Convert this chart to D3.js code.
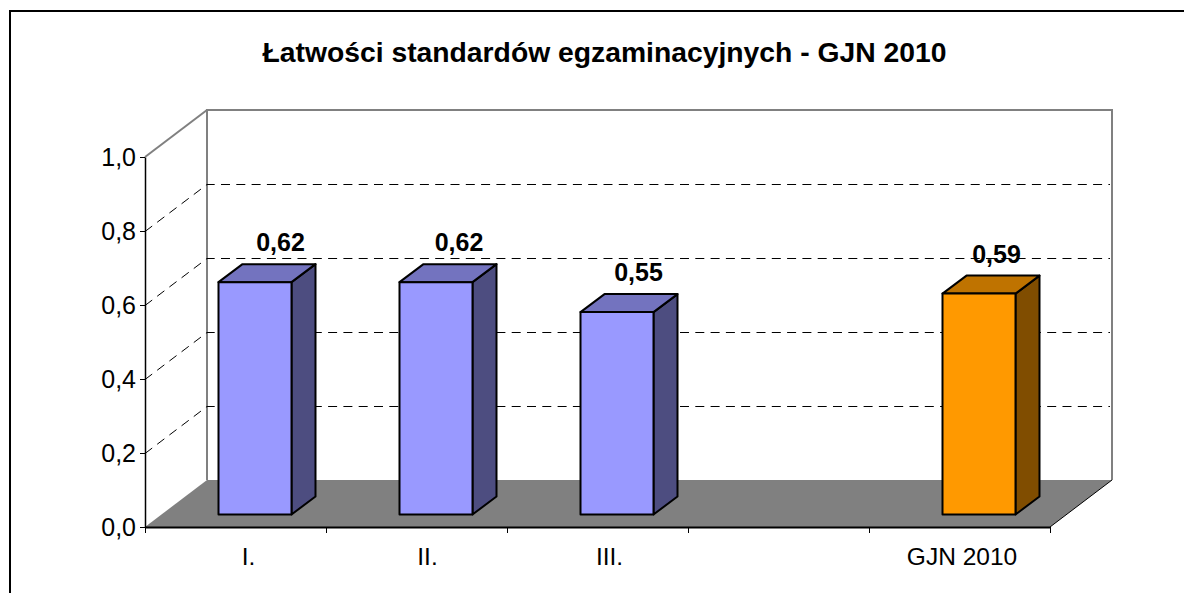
<!DOCTYPE html>
<html>
<head>
<meta charset="utf-8">
<script src="https://cdnjs.cloudflare.com/ajax/libs/d3/7.8.5/d3.min.js"></script>
<style>
  html, body { margin: 0; padding: 0; background: #fff; overflow: hidden; }
  svg { display: block; }
  text { font-family: "Liberation Sans", Arial, sans-serif; fill: #000; }
</style>
</head>
<body>
<svg id="vis" width="1184" height="593"></svg>
<script>
const chartTitle = 'Łatwości standardów egzaminacyjnych - GJN 2010';
const categories = ['I.', 'II.', 'III.', '', 'GJN 2010'];
// heights, labels as printed above the bars
const barValues = [0.628, 0.628, 0.547, 0, 0.597];
const barLabels = ['0,62', '0,62', '0,55', '', '0,59'];
const barColors = ['#9999ff', '#9999ff', '#9999ff', '', '#ff9900'];
const topColors = ['#7373bf', '#7373bf', '#7373bf', '', '#bf7300'];
const sideColors = ['#4d4d80', '#4d4d80', '#4d4d80', '', '#804d00'];
const yTicks = [0, 0.2, 0.4, 0.6, 0.8, 1];

const vis = d3.select('#vis');

// front plane of the 3d box
const x = d3.scaleBand().domain(d3.range(categories.length)).range([145, 1050]);
const y = d3.scaleLinear().domain([0, 1]).range([527, 157]);
const xEdges = d3.scaleLinear().domain([0, categories.length]).range([145, 1050]);
const depth = [62, -47];
const barDepth = [24, -18];
const barInset = [19, -12.5];
const barWidth = 73;
// the labels in the original don't sit on a common offset
const catNudge = [13, 11, 12, 0, 2.5];
const valNudge = [25.5, 23, 21.5, 0, 17.5];
const comma = d3.formatLocale({decimal: ',', thousands: '', grouping: [3], currency: ['', '']}).format('.1f');

// outer frame: only top and left are visible
vis.append('path')
  .attr('fill', 'none')
  .attr('stroke', '#000')
  .attr('stroke-width', 2)
  .attr('d', d3.line()([[10, 593], [10, 11], [1184, 11]]));

vis.append('text')
  .attr('x', 604.5).attr('y', 62)
  .attr('text-anchor', 'middle')
  .attr('font-size', 28.3)
  .attr('font-weight', 'bold')
  .text(chartTitle);

// floor
vis.append('polygon')
  .attr('fill', '#808080')
  .attr('points', [
    [x.range()[0], y(0)],
    [x.range()[1], y(0)],
    [x.range()[1] + depth[0], y(0) + depth[1]],
    [x.range()[0] + depth[0], y(0) + depth[1]]
  ].join(' '));

// back wall outline
vis.append('path')
  .attr('fill', 'none')
  .attr('stroke', '#808080')
  .attr('stroke-width', 2)
  .attr('d', d3.line()([
    [145 + depth[0], y(0) + depth[1]],
    [145 + depth[0], y(1) + depth[1]],
    [1050 + depth[0], y(1) + depth[1]],
    [1050 + depth[0], y(0) + depth[1]]
  ]));

// top edge of the side wall
vis.append('line')
  .attr('x1', 145).attr('y1', y(1))
  .attr('x2', 145 + depth[0]).attr('y2', y(1) + depth[1])
  .attr('stroke', '#808080')
  .attr('stroke-width', 2);

// dashed grid, along the side wall and then across the back wall
const inner = yTicks.filter(d => d > 0 && d < 1);
vis.selectAll('path.grid').data(inner).enter().append('path')
  .classed('grid', true)
  .attr('fill', 'none')
  .attr('stroke', '#000')
  .attr('stroke-width', 1)
  .attr('stroke-dasharray', '9 6.3')
  .attr('d', d => d3.line()([
    [145, y(d) + 0.5],
    [145 + depth[0], y(d) + depth[1] + 0.5],
    [1050 + depth[0] - 2, y(d) + depth[1] + 0.5]
  ]));

// front edge of the floor
vis.append('line')
  .attr('x1', 1050).attr('y1', y(0))
  .attr('x2', 1050 + depth[0]).attr('y2', y(0) + depth[1])
  .attr('stroke', '#000')
  .attr('stroke-width', 1);

// axes
const yAxis = vis.append('g')
  .attr('transform', 'translate(145,0)')
  .call(d3.axisLeft(y).tickValues(yTicks).tickFormat(comma).tickSize(5).tickSizeOuter(0));
yAxis.select('.domain').attr('stroke', '#000').attr('stroke-width', 1.5);
yAxis.selectAll('text').attr('font-size', 25).attr('font-family', '"Liberation Sans"').attr('dx', -1);

const xAxis = vis.append('g')
  .attr('transform', `translate(0,${y(0)})`)
  .call(d3.axisBottom(xEdges).ticks(categories.length).tickFormat('').tickSize(6).tickSizeOuter(0));
xAxis.select('.domain').attr('stroke', '#000').attr('stroke-width', 2);

vis.selectAll('text.cat').data(categories).enter().append('text')
  .classed('cat', true)
  .attr('x', (d, i) => x(i) + x.bandwidth() / 2 + catNudge[i])
  .attr('y', 565)
  .attr('text-anchor', 'middle')
  .attr('font-size', 24.5)
  .text(d => d);

// bars: front, top and side faces
const bars = d3.range(categories.length).filter(i => barValues[i] > 0);
const barLeft = i => x(i) + (x.bandwidth() - barWidth) / 2 + barInset[0] + 0.5;
const barBase = y(0) + barInset[1];
const barTop = i => barBase - (y(0) - y(barValues[i]));

const barGroup = vis.selectAll('g.bar').data(bars).enter().append('g').classed('bar', true)
  .attr('stroke', '#000')
  .attr('stroke-width', 2)
  .attr('stroke-linejoin', 'round');

barGroup.append('polygon')
  .attr('fill', i => sideColors[i])
  .attr('points', i => [
    [barLeft(i) + barWidth, barTop(i)],
    [barLeft(i) + barWidth + barDepth[0], barTop(i) + barDepth[1]],
    [barLeft(i) + barWidth + barDepth[0], barBase + barDepth[1]],
    [barLeft(i) + barWidth, barBase]
  ].join(' '));

barGroup.append('polygon')
  .attr('fill', i => topColors[i])
  .attr('points', i => [
    [barLeft(i), barTop(i)],
    [barLeft(i) + barDepth[0], barTop(i) + barDepth[1]],
    [barLeft(i) + barWidth + barDepth[0], barTop(i) + barDepth[1]],
    [barLeft(i) + barWidth, barTop(i)]
  ].join(' '));

barGroup.append('rect')
  .attr('fill', i => barColors[i])
  .attr('x', barLeft)
  .attr('y', barTop)
  .attr('width', barWidth)
  .attr('height', i => barBase - barTop(i));

vis.selectAll('text.val').data(bars).enter().append('text')
  .classed('val', true)
  .attr('x', i => barLeft(i) + barWidth / 2 + valNudge[i])
  .attr('y', i => barTop(i) - 31)
  .attr('text-anchor', 'middle')
  .attr('font-size', 25)
  .attr('font-weight', 'bold')
  .text(i => barLabels[i]);
</script>
</body>
</html>
